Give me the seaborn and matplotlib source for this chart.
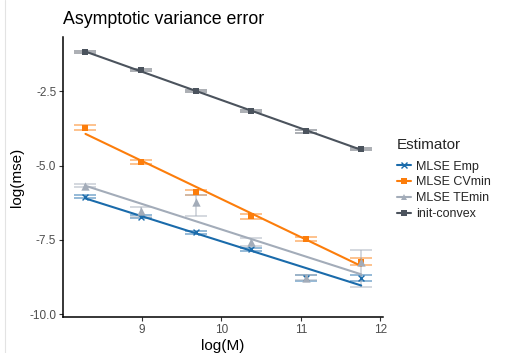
import numpy as np
import pandas as pd
import matplotlib
matplotlib.use("Agg")
import matplotlib.pyplot as plt
from matplotlib.lines import Line2D
import seaborn as sns

# Sample sizes and estimator results
M = [4000, 8000, 16000, 32000, 64000, 128000]
estimators = ["MLSE Emp", "MLSE CVmin", "MLSE TEmin", "init-convex"]

emp_mse = [-6.05, -6.72, -7.25, -7.81, -8.79, -8.79]
emp_lo = [-6.10, -6.77, -7.29, -7.86, -8.89, -8.89]
emp_hi = [-6.00, -6.67, -7.21, -7.76, -8.69, -8.69]

cvmin_mse = [-3.73, -4.89, -5.90, -6.71, -7.48, -8.23]
cvmin_lo = [-3.81, -4.95, -5.98, -6.80, -7.55, -8.35]
cvmin_hi = [-3.65, -4.83, -5.82, -6.62, -7.41, -8.11]

temin_mse = [-5.68, -6.52, -6.24, -7.57, -8.77, -8.23]
temin_lo = [-5.73, -6.72, -6.69, -7.72, -8.85, -9.09]
temin_hi = [-5.63, -6.40, -5.98, -7.42, -8.69, -7.84]

init_mse = [-1.19, -1.79, -2.49, -3.17, -3.85, -4.44]
init_lo = [-1.23, -1.83, -2.53, -3.21, -3.89, -4.48]
init_hi = [-1.15, -1.75, -2.45, -3.13, -3.81, -4.40]

colors = ["#1A6BAB", "#FC7D0B", "#A3ACB9", "#4B535D"]
markers = ["x", "s", "^", "s"]
msizes = [18, 22, 36, 24]

series = {
    "MLSE Emp": (emp_mse, emp_lo, emp_hi),
    "MLSE CVmin": (cvmin_mse, cvmin_lo, cvmin_hi),
    "MLSE TEmin": (temin_mse, temin_lo, temin_hi),
    "init-convex": (init_mse, init_lo, init_hi),
}

rows = []
for name, (mse, lo, hi) in series.items():
    for m, v, l, h in zip(M, mse, lo, hi):
        rows.append({"logM": np.log(m), "mse": v, "lo": l, "hi": h, "Estimator": name})
df = pd.DataFrame(rows)

sns.set_theme(style="white")
plt.rcParams["font.family"] = ["Liberation Sans", "DejaVu Sans"]
plt.rcParams["axes.unicode_minus"] = False

fig = plt.figure(figsize=(5.05, 3.53), dpi=100)
ax = fig.add_axes([0.1253, 0.1011, 0.6325, 0.795])

for name, col, mk, ms in zip(estimators, colors, markers, msizes):
    d = df[df["Estimator"] == name]
    # error bars
    ax.errorbar(d["logM"], d["mse"],
                yerr=[d["mse"] - d["lo"], d["hi"] - d["mse"]],
                fmt="none", ecolor=col, alpha=0.5, elinewidth=1.3,
                capsize=8, capthick=1.3, zorder=2)
    # linear fit
    sns.regplot(data=d, x="logM", y="mse", scatter=False, ci=None,
                color=col, line_kws={"linewidth": 1.5, "zorder": 3}, ax=ax,
                truncate=True)
    # points
    if mk == "x":
        sns.scatterplot(data=d, x="logM", y="mse", marker=mk, color=col,
                        s=ms, linewidth=1.0, ax=ax, zorder=4, legend=False)
    else:
        sns.scatterplot(data=d, x="logM", y="mse", marker=mk, color=col,
                        s=ms, linewidth=0, ax=ax, zorder=4, legend=False)

ax.set_xlim(8.015, 12.03)
ax.set_ylim(-10.1, -0.67)
ax.set_xticks([9, 10, 11, 12])
ax.set_yticks([-2.5, -5.0, -7.5, -10.0])
ax.set_xticklabels(["9", "10", "11", "12"])
ax.set_yticklabels(["-2.5", "-5.0", "-7.5", "-10.0"])
ax.tick_params(axis="both", colors="#333333", labelcolor="#4D4D4D",
               labelsize=8.5, length=3, width=0.8, direction="out",
               bottom=True, left=True)
ax.tick_params(axis="x", pad=2)
ax.tick_params(axis="y", pad=2)

for side in ["top", "right"]:
    ax.spines[side].set_visible(False)
for side in ["left", "bottom"]:
    ax.spines[side].set_color("black")
    ax.spines[side].set_linewidth(1.1)

ax.set_xlabel("log(M)", fontsize=11, color="black", labelpad=2)
ax.set_ylabel("log(mse)", fontsize=11, color="black", labelpad=4)
ax.set_title("Asymptotic variance error", fontsize=12.8, loc="left",
             color="black", x=0.0, pad=9)

handles = [Line2D([0], [0], color=c, marker=m, markersize=4.5,
                  markeredgewidth=1.0 if m == "x" else 0, linewidth=1.5)
           for c, m in zip(colors, markers)]
leg = fig.legend(handles, estimators, title="Estimator", loc="upper left",
                 bbox_to_anchor=(0.786, 0.608), frameon=False, fontsize=9,
                 title_fontsize=11, handlelength=1.1, handletextpad=0.45,
                 labelspacing=0.3, borderaxespad=0, borderpad=0)
leg._legend_box.align = "left"
leg._legend_box.sep = 6

# thin frame line on the left edge
fig.add_artist(Line2D([5 / 505, 5 / 505], [0, 1], color="#E3E3E3",
                      linewidth=0.8, transform=fig.transFigure))

fig.savefig("out.png", dpi=100)
